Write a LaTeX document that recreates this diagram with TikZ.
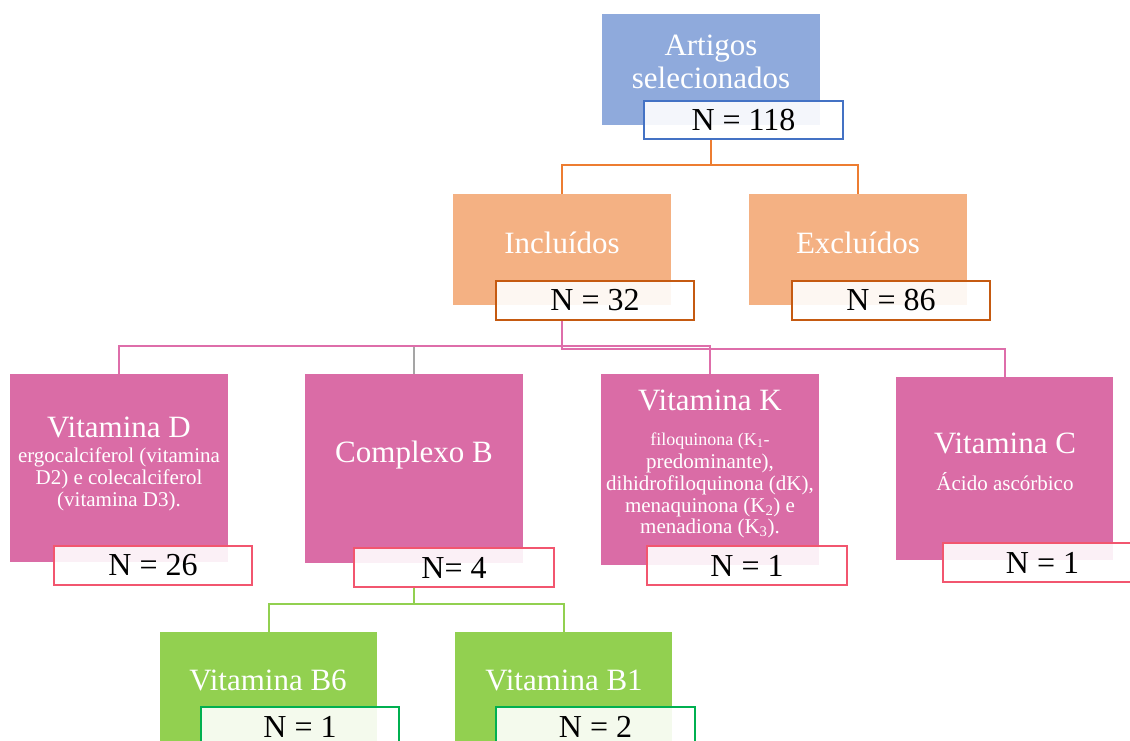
\documentclass[tikz,border=0pt]{standalone}
\usepackage{fontspec}
\setmainfont{Liberation Serif}
\definecolor{topblue}{HTML}{8FAADC}
\definecolor{nblue}{HTML}{4472C4}
\definecolor{orfill}{HTML}{F4B183}
\definecolor{orline}{HTML}{ED7D31}
\definecolor{orborder}{HTML}{C55A11}
\definecolor{pkfill}{HTML}{DA6CA6}
\definecolor{pkline}{HTML}{DE6EAA}
\definecolor{pkborder}{HTML}{F2566F}
\definecolor{grline}{HTML}{A5A5A5}
\definecolor{gnfill}{HTML}{92D050}
\definecolor{gnborder}{HTML}{00B050}
\begin{document}
\begin{tikzpicture}[x=1pt,y=-1pt,
  cbox/.style={rectangle, inner sep=0pt, draw=none},
  nbox/.style={rectangle, inner sep=0pt, fill=white, fill opacity=0.9, text opacity=1,
    line width=2.2pt, font=\fontsize{32}{36}\selectfont, minimum width=198pt, minimum height=38pt},
  title/.style={anchor=base, text=white, inner sep=0pt, font=\fontsize{31}{34}\selectfont},
  sub/.style={anchor=base, text=white, inner sep=0pt, font=\fontsize{21}{22}\selectfont},
  subs/.style={anchor=base, text=white, inner sep=0pt, font=\fontsize{18}{20}\selectfont},
  conn/.style={line width=2pt}]
\useasboundingbox (0,0) rectangle (1130,740);
\clip (0,0) rectangle (1130,740);

% colored boxes
\node[cbox, fill=topblue, minimum width=218pt, minimum height=111pt] (top) at (711,69.5) {};
\node[cbox, fill=orfill, minimum width=218pt, minimum height=111pt] (incl) at (562,249.5) {};
\node[cbox, fill=orfill, minimum width=218pt, minimum height=111pt] (excl) at (858,249.5) {};
\node[cbox, fill=pkfill, minimum width=218pt, minimum height=188pt] (vitd) at (119,468) {};
\node[cbox, fill=pkfill, minimum width=218pt, minimum height=189pt] (compb) at (414,468.5) {};
\node[cbox, fill=pkfill, minimum width=218pt, minimum height=191pt] (vitk) at (710,469.5) {};
\node[cbox, fill=pkfill, minimum width=217pt, minimum height=183pt] (vitc) at (1004.5,468.5) {};
\node[cbox, fill=gnfill, minimum width=217pt, minimum height=111pt] (b6) at (268.5,687.5) {};
\node[cbox, fill=gnfill, minimum width=217pt, minimum height=111pt] (b1) at (563.5,687.5) {};

% connectors
\draw[conn, orline] (top.south |- 0,139) -- ++(0,26) coordinate (o1) -| (incl.north);
\draw[conn, orline] (o1) -| (excl.north);
\draw[conn, grline] (compb.north) -- ++(0,-28);
\draw[conn, pkline] (vitd.north) -- ++(0,-28) -| (vitk.north);
\draw[conn, pkline] (incl.south |- 0,320) -- ++(0,29) -| (vitc.north);
\draw[conn, gnfill] (compb.south |- 0,587) -- ++(0,17) coordinate (g1) -| (b6.north);
\draw[conn, gnfill] (g1) -| (b1.north);

% titles
\node[title] (t1) at (711,55) {Artigos};
\node[title] (t2) at (711,88) {selecionados};
\node[title] (tincl) at (562,253) {Incluídos};
\node[title] (texcl) at (858,253) {Excluídos};
\node[title] (tvitd) at (119,437) {Vitamina D};
\node[sub] (svitd1) at (119,462) {ergocalciferol (vitamina};
\node[sub] (svitd2) at (119,484) {D2) e colecalciferol};
\node[sub] (svitd3) at (119,506) {(vitamina D3).};
\node[title] (tcompb) at (414,462) {Complexo B};
\node[title] (tvitk) at (710,410) {Vitamina K};
\node[subs] (svitk1) at (710,445) {filoquinona (K\textsubscript{1}-};
\node[sub] (svitk2) at (710,468) {predominante),};
\node[sub] (svitk3) at (710,490) {dihidrofiloquinona (dK),};
\node[sub] (svitk4) at (710,512) {menaquinona (K\textsubscript{2}) e};
\node[sub] (svitk5) at (710,533) {menadiona (K\textsubscript{3}).};
\node[title] (tvitc) at (1005,453) {Vitamina C};
\node[sub] (svitc) at (1005,490) {Ácido ascórbico};
\node[title] (tb6) at (268,690) {Vitamina B6};
\node[title] (tb1) at (564,690) {Vitamina B1};

% N boxes
\node[nbox, draw=nblue, minimum width=199pt] (n118) at (743.5,120) {N = 118};
\node[nbox, draw=orborder, minimum height=39pt] (n32) at (595,300.5) {N = 32};
\node[nbox, draw=orborder, minimum height=39pt] (n86) at (891,300.5) {N = 86};
\node[nbox, draw=pkborder, minimum height=39pt] (n26) at (153,565.5) {N = 26};
\node[nbox, draw=pkborder, minimum width=200pt, minimum height=39pt] (n4) at (454,567.5) {N= 4};
\node[nbox, draw=pkborder, minimum width=200pt, minimum height=39pt] (nk) at (747,565.5) {N = 1};
\node[nbox, draw=pkborder, minimum width=199pt, minimum height=39pt] (nc) at (1042.5,562.5) {N = 1};
\node[nbox, draw=gnborder, minimum height=39pt] (nb6) at (300,726.5) {N = 1};
\node[nbox, draw=gnborder, minimum width=199pt, minimum height=39pt] (nb1) at (595.5,726.5) {N = 2};
\end{tikzpicture}
\end{document}
